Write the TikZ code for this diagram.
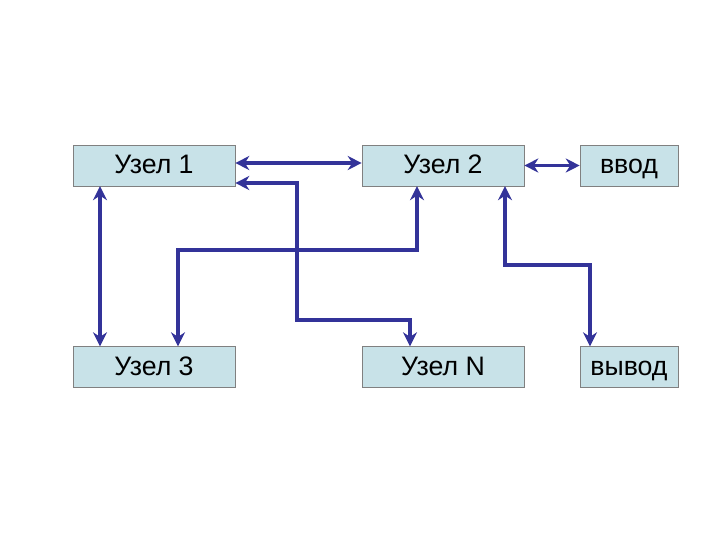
\documentclass[tikz,border=0pt]{standalone}
\usepackage{fontspec}
\setmainfont{Liberation Sans}
\usetikzlibrary{arrows.meta}
\definecolor{boxfill}{RGB}{200,226,232}
\definecolor{wire}{RGB}{51,51,153}
\tikzset{
  box/.style = {draw=gray, fill=boxfill, minimum height=1.02cm, inner sep=0pt,
    text height=13pt, text depth=1pt, font=\fontsize{19}{22}\selectfont},
  link/.style = {wire, line width = .8mm, {Stealth[length=3.5mm,width=3.5mm]}-{Stealth[length=3.5mm,width=3.5mm]}}
}
\begin{document}
\begin{tikzpicture}[x=0.025cm, y=-0.025cm]
        \useasboundingbox (0, 0) rectangle (720, 540);
        \node[box, minimum width=4.05cm] (n1) at (154, 165.5) {Узел 1};
        \node[box, minimum width=4.05cm] (n2) at (443, 165.5) {Узел 2};
        \node[box, minimum width=2.45cm] (in) at (629, 165.5) {ввод};
        \node[box, minimum width=4.05cm] (n3) at (154, 367) {Узел 3};
        \node[box, minimum width=4.05cm] (nN) at (443, 367) {Узел N};
        \node[box, minimum width=2.45cm] (out) at (629, 367) {вывод};
        % connectors
        \draw[link] (n1.east |- 0, 163) -- (n2.west |- 0, 163);
        \draw[link] (n2.east) -- (in.west);
        \draw[link] (n1.south -| 100, 0) -- (n3.north -| 100, 0);
        \draw[link] (n1.east |- 0, 183) -- (297, 183) -- (297, 320) -- (410, 320) -- (nN.north -| 410, 0);
        \draw[link] (n2.south -| 417, 0) -- (417, 250) -- (178, 250) -- (n3.north -| 178, 0);
        \draw[link] (n2.south -| 505, 0) -- (505, 265) -- (590, 265) -- (out.north -| 590, 0);
\end{tikzpicture}
\end{document}
